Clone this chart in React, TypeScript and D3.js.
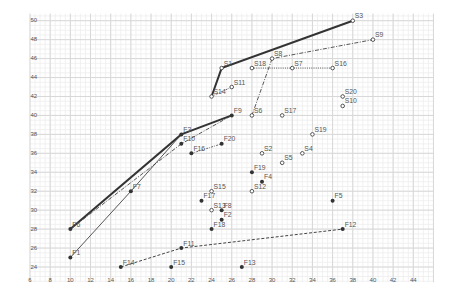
import React from 'react';
import * as d3 from 'd3';

const W = 460;
const H = 308;

// filled points (F) and open points (S): [label, x, y]
const fPoints: [string, number, number][] = [
  ['F1', 10, 25], ['F2', 25, 29], ['F3', 21, 38], ['F4', 29, 33], ['F5', 36, 31],
  ['F6', 10, 28], ['F7', 16, 32], ['F8', 25, 30], ['F9', 26, 40], ['F10', 21, 37],
  ['F11', 21, 26], ['F12', 37, 28], ['F13', 27, 24], ['F14', 15, 24], ['F15', 20, 24],
  ['F16', 22, 36], ['F17', 23, 31], ['F18', 24, 28], ['F19', 28, 34], ['F20', 25, 37]
];
const sPoints: [string, number, number][] = [
  ['S1', 25, 45], ['S2', 29, 36], ['S3', 38, 50], ['S4', 33, 36], ['S5', 31, 35],
  ['S6', 28, 40], ['S7', 32, 45], ['S8', 30, 46], ['S9', 40, 48], ['S10', 37, 41],
  ['S11', 26, 43], ['S12', 28, 32], ['S13', 24, 30], ['S14', 24, 42], ['S15', 24, 32],
  ['S16', 36, 45], ['S17', 31, 40], ['S18', 28, 45], ['S19', 34, 38], ['S20', 37, 42]
];

// polylines through labelled points
const thickPaths = [['F6', 'F3', 'F9'], ['S14', 'S1', 'S3']];
const thinPaths = [['F1', 'F7', 'F3']];
const dashDotPaths = [['F6', 'F10', 'F9'], ['S6', 'S8', 'S9']];
const dottedPaths = [['S18', 'S7', 'S16']];
const dashedPaths = [['F14', 'F11', 'F12']];
const shortDashDotPaths = [['F16', 'F20'], ['S14', 'S11']];

const xTicks = d3.range(6, 46, 2);
const yTicks = d3.range(24, 52, 2);

const x = d3.scaleLinear().domain([6, 44]).range([30, 413.3]);
const y = d3.scaleLinear().domain([24, 50]).range([267, 20.7]);

const gridX: [number, number] = [6, 46];
const gridY: [number, number] = [22.4, 50.75];

const lookup = new Map<string, [number, number]>();
[...fPoints, ...sPoints].forEach(([l, px, py]) => lookup.set(l, [px, py]));

const line = d3.line<string>()
  .x(l => x(lookup.get(l)![0]))
  .y(l => y(lookup.get(l)![1]));

export default function App() {
  const minorX = d3.range(gridX[0], gridX[1] + 0.01, 0.5);
  const minorY = d3.range(Math.ceil(gridY[0] * 2) / 2, gridY[1], 0.5);
  const majorX = minorX.filter(v => v % 2 === 0);
  const majorY = minorY.filter(v => v % 2 === 0);

  const pathGroup = (paths: string[][], props: any, key: string) =>
    paths.map((p, i) => (
      <path key={key + i} d={line(p) || ''} fill="none" {...props} />
    ));

  return (
    <svg width={W} height={H} style={{ position: 'absolute', left: 0, top: 0, background: '#fff' }}
      fontFamily="'Liberation Sans', Arial, sans-serif">
      <g className="grid">
        {minorX.map(v => (
          <line key={'mx' + v} x1={x(v)} x2={x(v)} y1={y(gridY[0])} y2={y(gridY[1])} stroke="#eeeeee" strokeWidth={0.8} />
        ))}
        {minorY.map(v => (
          <line key={'my' + v} x1={x(gridX[0])} x2={x(gridX[1])} y1={y(v)} y2={y(v)} stroke="#eeeeee" strokeWidth={0.8} />
        ))}
        {majorX.map(v => (
          <line key={'Mx' + v} x1={x(v)} x2={x(v)} y1={y(gridY[0])} y2={y(gridY[1])} stroke="#d8d8d8" strokeWidth={1} />
        ))}
        {majorY.map(v => (
          <line key={'My' + v} x1={x(gridX[0])} x2={x(gridX[1])} y1={y(v)} y2={y(v)} stroke="#d8d8d8" strokeWidth={1} />
        ))}
      </g>
      <g fontSize={6} fill="#555">
        {xTicks.map(v => (
          <text key={'xt' + v} x={x(v)} y={y(22.6)} textAnchor="middle" dominantBaseline="middle">{v}</text>
        ))}
        {yTicks.map(v => (
          <text key={'yt' + v} x={x(6) + 0.5} y={y(v)} dominantBaseline="middle">{v}</text>
        ))}
      </g>
      <g>
        {pathGroup(thickPaths, { stroke: '#333', strokeWidth: 2 }, 'th')}
        {pathGroup(thinPaths, { stroke: '#444', strokeWidth: 0.9 }, 'tn')}
        {pathGroup(dashDotPaths, { stroke: '#444', strokeWidth: 0.9, strokeDasharray: '4,1.5,1,1.5' }, 'dd')}
        {pathGroup(dottedPaths, { stroke: '#444', strokeWidth: 0.9, strokeDasharray: '1,1.2' }, 'dt')}
        {pathGroup(dashedPaths, { stroke: '#444', strokeWidth: 1, strokeDasharray: '3,1.8' }, 'ds')}
        {pathGroup(shortDashDotPaths, { stroke: '#555', strokeWidth: 0.9, strokeDasharray: '2,1.2,0.8,1.2' }, 'sd')}
      </g>
      <g>
        {fPoints.map(([l, px, py]) => (
          <circle key={l} cx={x(px)} cy={y(py)} r={2} fill="#333" />
        ))}
        {sPoints.map(([l, px, py]) => (
          <circle key={l} cx={x(px)} cy={y(py)} r={1.8} fill="#fff" stroke="#444" strokeWidth={0.9} />
        ))}
      </g>
      <g fontSize={6.8} fill="#555">
        {[...fPoints, ...sPoints].map(([l, px, py]) => (
          <text key={'l' + l} x={x(px) + 2} y={y(py) - 2.5}>{l}</text>
        ))}
      </g>
    </svg>
  );
}
